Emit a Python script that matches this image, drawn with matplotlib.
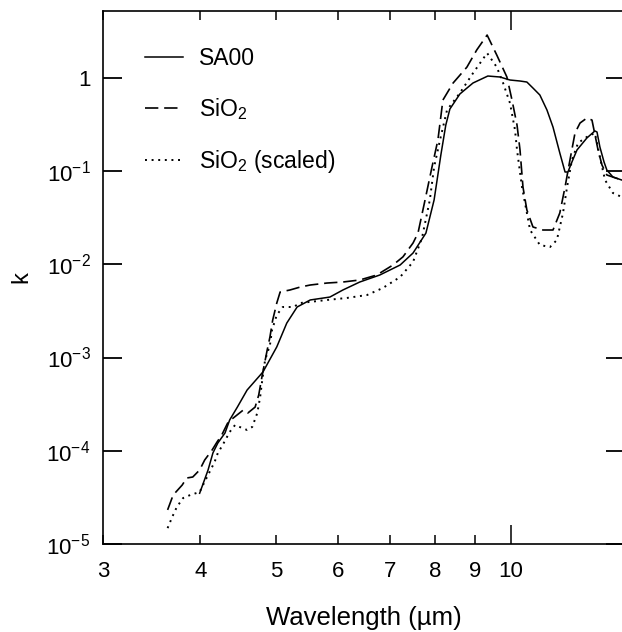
import matplotlib
matplotlib.use("Agg")
import matplotlib.pyplot as plt
from matplotlib.ticker import FixedLocator, FixedFormatter, NullLocator

plt.rcParams['font.family'] = ['Liberation Sans', 'DejaVu Sans']
plt.rcParams['mathtext.default'] = 'regular'

# SA00 (solid)
sa00_wl = [3.99, 4.09, 4.15, 4.21, 4.30, 4.36, 4.46, 4.59, 4.81, 5.01, 5.16, 5.32,
           5.53, 5.86, 6.09, 6.40, 6.79, 7.21, 7.49, 7.78, 7.97, 8.13, 8.25, 8.35,
           8.60, 8.94, 9.34, 9.68, 9.97, 10.27, 10.48, 10.67, 10.89, 11.12, 11.32,
           11.55, 11.73, 11.83, 11.97, 12.15, 12.51, 12.81, 12.89, 13.00, 13.16,
           13.27, 13.51, 13.87]
sa00_k = [3.5e-5, 6.2e-5, 9.5e-5, 1.21e-4, 1.55e-4, 2.14e-4, 2.94e-4, 4.48e-4,
          7.0e-4, 1.30e-3, 2.34e-3, 3.48e-3, 4.14e-3, 4.45e-3, 5.30e-3, 6.45e-3,
          7.67e-3, 9.82e-3, 1.32e-2, 2.16e-2, 4.89e-2, 0.148, 0.311, 0.462, 0.670,
          0.879, 1.044, 1.019, 0.946, 0.923, 0.900, 0.776, 0.653, 0.451, 0.296,
          0.156, 0.0976, 0.0976, 0.125, 0.168, 0.226, 0.269, 0.262, 0.181, 0.125,
          0.1025, 0.0862, 0.080]

# SiO2 (dashed)
sio2_wl = [3.63, 3.69, 3.79, 3.84, 3.91, 3.99, 4.05, 4.14, 4.20, 4.26, 4.34, 4.54,
           4.60, 4.70, 4.75, 4.80, 4.87, 4.91, 4.95, 5.01, 5.06, 5.21, 5.37, 5.53,
           5.81, 6.09, 6.40, 6.73, 7.06, 7.27, 7.49, 7.60, 7.76, 7.92, 8.06, 8.18,
           8.43, 8.78, 9.04, 9.32, 9.59, 9.88, 10.03, 10.18, 10.27, 10.36, 10.48,
           10.67, 10.99, 11.32, 11.55, 11.73, 11.90, 12.08, 12.26, 12.51, 12.70,
           12.93, 13.08, 13.27, 13.87]
sio2_k = [2.32e-5, 3.35e-5, 4.29e-5, 5.10e-5, 5.23e-5, 6.22e-5, 7.96e-5, 1.02e-4,
          1.24e-4, 1.48e-4, 2.03e-4, 2.74e-4, 2.54e-4, 2.94e-4, 3.96e-4, 6.49e-4,
          1.20e-3, 1.66e-3, 2.52e-3, 3.84e-3, 5.04e-3, 5.30e-3, 5.70e-3, 5.99e-3,
          6.29e-3, 6.45e-3, 6.78e-3, 7.67e-3, 9.82e-3, 1.20e-2, 1.69e-2, 2.16e-2,
          4.89e-2, 0.110, 0.215, 0.577, 0.879, 1.30, 1.99, 2.87, 1.75, 1.019, 0.577,
          0.311, 0.168, 0.0674, 0.0382, 0.0251, 0.0233, 0.0233, 0.0355, 0.0674,
          0.131, 0.256, 0.327, 0.370, 0.352, 0.168, 0.116, 0.0906, 0.080]

# SiO2 scaled (dotted)
scaled_wl = [3.63, 3.68, 3.73, 3.80, 3.88, 3.99, 4.03, 4.09, 4.17, 4.21, 4.27, 4.36,
             4.43, 4.49, 4.59, 4.66, 4.73, 4.77, 4.80, 4.84, 4.91, 4.94, 5.01, 5.10,
             5.26, 5.37, 5.81, 6.16, 6.54, 6.85, 7.21, 7.49, 7.69, 7.87, 7.97, 8.11,
             8.28, 8.60, 8.94, 9.32, 9.59, 9.77, 9.97, 10.12, 10.18, 10.33, 10.58,
             10.89, 11.22, 11.45, 11.66, 11.80, 11.97, 12.19, 12.51, 12.81, 13.00,
             13.20, 13.51, 13.87]
scaled_k = [1.48e-5, 1.95e-5, 2.49e-5, 3.11e-5, 3.35e-5, 3.61e-5, 4.29e-5, 5.49e-5,
            7.57e-5, 9.46e-5, 1.15e-4, 1.59e-4, 1.89e-4, 1.80e-4, 1.67e-4, 1.80e-4,
            2.54e-4, 3.77e-4, 5.74e-4, 9.4e-4, 1.36e-3, 1.97e-3, 2.86e-3, 3.48e-3,
            3.48e-3, 3.84e-3, 4.14e-3, 4.35e-3, 4.68e-3, 5.56e-3, 7.30e-3, 1.06e-2,
            1.91e-2, 4.89e-2, 0.110, 0.215, 0.451, 0.686, 1.12, 1.84, 1.30, 0.879,
            0.536, 0.275, 0.168, 0.0674, 0.0233, 0.0161, 0.0153, 0.0182, 0.0355,
            0.0674, 0.131, 0.200, 0.232, 0.256, 0.141, 0.080, 0.0581, 0.0526]

x_major = [10]
x_major_labels = ['10']
x_minor = [3, 4, 5, 6, 7, 8, 9]
x_minor_labels = ['3', '4', '5', '6', '7', '8', '9']
y_ticks = [1e-5, 1e-4, 1e-3, 1e-2, 1e-1, 1]
y_labels = ['10$^{-5}$', '10$^{-4}$', '10$^{-3}$', '10$^{-2}$', '10$^{-1}$', '1']

fig = plt.figure(figsize=(6.22, 6.32), dpi=100)
ax = fig.add_axes([103/622, 88/632, 522/622, 533/632])

ax.plot(sa00_wl, sa00_k, color='black', lw=1.1, label='SA00')
ax.plot(sio2_wl, sio2_k, color='black', lw=1.2, dashes=(8, 3.5), label='SiO$_2$')
ax.plot(scaled_wl, scaled_k, color='black', lw=1.4, dashes=(1, 2.4), label='SiO$_2$ (scaled)')

ax.set_xscale('log')
ax.set_yscale('log')
ax.set_xlim(3, 14)
ax.set_ylim(1e-5, 5.2)

ax.xaxis.set_major_locator(FixedLocator(x_major))
ax.xaxis.set_major_formatter(FixedFormatter(x_major_labels))
ax.xaxis.set_minor_locator(FixedLocator(x_minor))
ax.xaxis.set_minor_formatter(FixedFormatter(x_minor_labels))
ax.yaxis.set_major_locator(FixedLocator(y_ticks))
ax.yaxis.set_major_formatter(FixedFormatter(y_labels))
ax.yaxis.set_minor_locator(NullLocator())

ax.tick_params(axis='x', which='major', direction='in', length=13.5, width=1.1,
               top=True, pad=12, labelsize=16)
ax.tick_params(axis='x', which='minor', direction='in', length=6.5, width=1.1,
               top=True, pad=12, labelsize=16)
ax.tick_params(axis='y', which='major', direction='in', length=13.5, width=1.3,
               right=True, pad=9, labelsize=16)
for s in ax.spines.values():
    s.set_linewidth(1.2)

ax.set_xlabel('Wavelength (µm)', fontsize=18.5, labelpad=17.5)
ax.set_ylabel('k', fontsize=17, labelpad=10)

ax.legend(loc='upper left', bbox_to_anchor=(0.08, 0.933), frameon=False,
          fontsize=16.5, handlelength=1.65, handletextpad=0.7, labelspacing=1.15,
          borderaxespad=0, borderpad=0)

fig.savefig('out.png', dpi=100)
